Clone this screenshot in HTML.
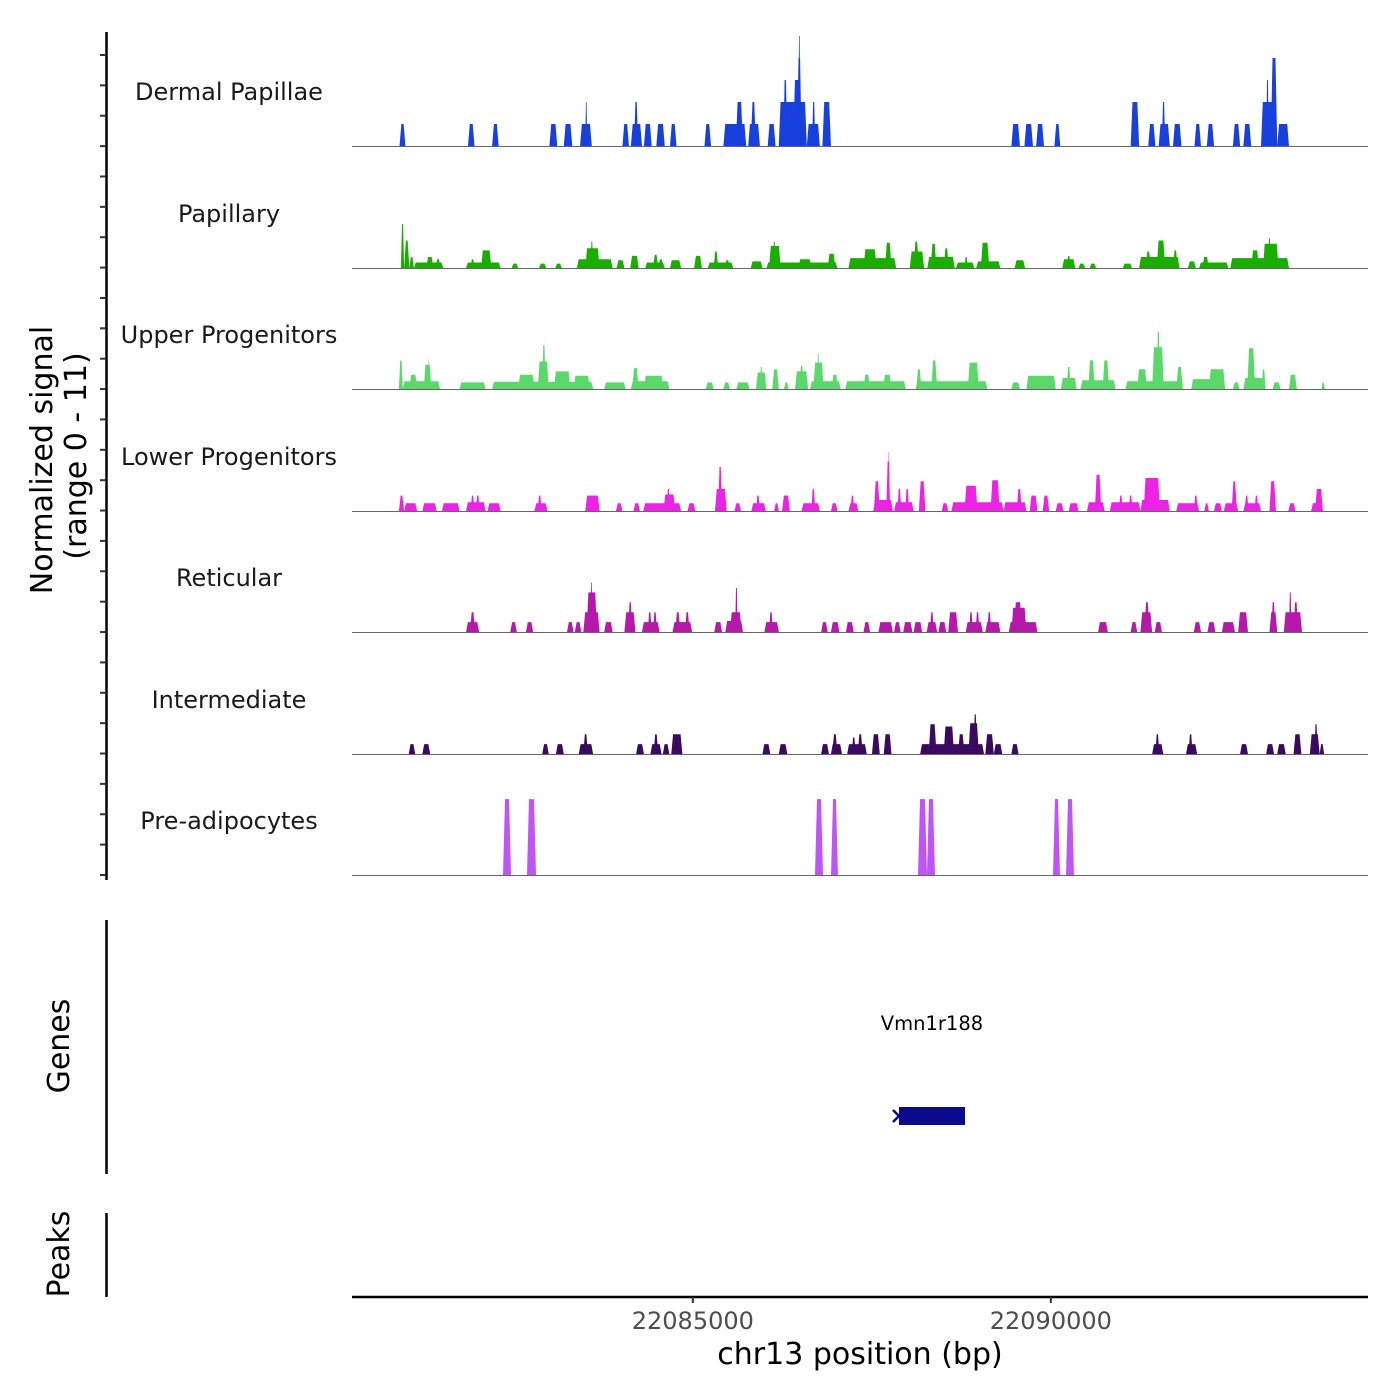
<!DOCTYPE html>
<html><head><meta charset="utf-8"><style>
html,body{margin:0;padding:0;background:#fff;}
svg{display:block;font-family:"DejaVu Sans","Liberation Sans",sans-serif;}
</style></head><body>
<svg id="chart" width="1400" height="1400" viewBox="0 0 1400 1400" xmlns="http://www.w3.org/2000/svg">
<g id="tracks"></g>
<g id="axes"></g>
</svg>
<script>
const REGION_START = 22080240;
const REGION_END = 22094430;
const trackNames = ["Dermal Papillae","Papillary","Upper Progenitors","Lower Progenitors","Reticular","Intermediate","Pre-adipocytes"];
const trackColors = ["#1740dc","#1aae00","#5ad96a","#ec22e4","#b619a9","#3b0a5e","#bf55f5"];
const xTicks = [22085000, 22090000];
const geneName = "Vmn1r188";
const geneRange = [7639, 8561];
// peaks: [startOffsetBp, endOffsetBp, normalizedSignal]
const dermalPapillae = [[664,746,2],[1620,1711,2],[1957,2048,2],[2757,2867,2],[2958,3076,2],[3185,3349,2],[3258,3285,4],[3777,3868,2],[3895,4050,2],[3940,3995,4],[4077,4186,2],[4250,4368,2],[4441,4532,2],[4923,5014,2],[5187,5506,2],[5360,5460,4],[5533,5697,2],[5569,5642,4],[5806,5915,2],[5960,6352,4],[6024,6079,6],[6161,6279,6],[6215,6279,8],[6234,6261,10],[6352,6534,2],[6425,6470,4],[6570,6689,4],[9209,9328,2],[9391,9510,2],[9555,9664,2],[9810,9892,2],[10875,10993,4],[11120,11220,2],[11266,11421,2],[11311,11357,4],[11466,11584,2],[11766,11857,2],[11939,12039,2],[12303,12403,2],[12449,12558,2],[12695,12922,4],[12767,12804,6],[12831,12922,8],[12922,13086,2]];
const papillary = [[683,728,4],[728,801,2.5],[801,865,1],[865,1274,0.5],[1037,1138,1],[1165,1238,0.8],[1593,2075,0.5],[1802,1947,1.6],[1656,1711,0.8],[2230,2321,0.4],[2612,2712,0.4],[2839,2930,0.4],[3140,3640,0.8],[3258,3458,1.8],[3331,3367,2.4],[3695,3804,0.7],[3886,4004,1.1],[4095,4368,0.5],[4204,4277,1.2],[4277,4350,0.8],[4441,4596,0.7],[4778,4887,1.1],[4969,5324,0.5],[5051,5114,1.5],[5205,5278,0.7],[5569,5733,0.6],[5788,6780,0.5],[5824,5988,2],[5879,5915,2.4],[6234,6416,0.8],[6643,6752,1.3],[6934,7599,0.9],[7144,7326,1.7],[7444,7535,2.3],[7790,7990,1.5],[7844,7917,2.4],[8035,8418,1],[8081,8163,2.2],[8263,8336,1.8],[8436,8691,0.5],[8554,8600,1],[8718,9055,0.6],[8782,8900,2.3],[9255,9400,0.7],[9919,10101,0.8],[9983,10037,1.1],[10147,10238,0.4],[10301,10392,0.4],[10765,10893,0.4],[10993,11557,1],[11239,11357,2.5],[11466,11530,1.6],[11084,11157,1.5],[11675,11785,0.6],[11830,12240,0.5],[11876,11967,1],[12267,13086,0.9],[12558,12667,1.6],[12722,12940,2.2],[12795,12831,2.7]];
const upperProgenitors = [[655,710,2.6],[710,1229,0.7],[801,910,1.3],[1001,1110,2.2],[1056,1074,2.7],[1502,1866,0.6],[1957,3367,0.65],[2321,2548,1.3],[2594,2748,2.5],[2657,2703,4],[2821,3049,1.6],[3094,3322,1.2],[3522,3822,0.6],[3895,4432,0.7],[3913,4004,1.9],[4077,4350,1.2],[4941,5051,0.6],[5187,5278,0.6],[5369,5551,0.6],[5642,5788,1.5],[5697,5733,2],[5870,5961,1.8],[6033,6097,0.6],[6188,6370,1.6],[6252,6306,2.1],[6397,6825,0.7],[6443,6588,2.4],[6497,6525,3.2],[6698,6789,1.3],[6889,7735,0.7],[7144,7235,1.3],[7417,7535,1.3],[7872,8873,0.7],[7881,7953,1.8],[8090,8172,2.6],[8600,8754,2.4],[9209,9328,0.6],[9419,9828,1.2],[9901,10119,1],[9983,10037,2],[10174,10665,0.8],[10283,10374,2.6],[10483,10574,2.6],[10802,11603,0.7],[10966,11102,1.8],[11175,11339,3.8],[11239,11284,5.2],[11512,11603,2],[11721,12194,0.9],[11967,12194,1.8],[12303,12394,0.6],[12449,12740,1],[12503,12613,3.7],[12704,12758,1.8],[12858,12968,0.6],[13086,13195,1.3],[13541,13586,0.6]];
const lowerProgenitors = [[655,728,1.4],[728,910,0.7],[983,1183,0.7],[1256,1502,0.7],[1593,1866,0.8],[1656,1711,1.4],[1729,1784,1.4],[1893,2075,0.7],[2548,2730,0.7],[2594,2648,1.4],[3258,3458,1.4],[3686,3777,0.7],[3931,4022,0.7],[4068,4596,0.7],[4350,4514,1.5],[4395,4441,2],[4687,4796,0.7],[5069,5233,2],[5114,5169,4],[5342,5433,0.7],[5578,5779,0.7],[5642,5697,1.4],[5897,5961,0.7],[6006,6115,1.4],[6279,6534,0.7],[6416,6470,2],[6689,6780,0.7],[6934,7071,0.7],[6962,7016,1.4],[7280,7553,1],[7289,7371,2.7],[7462,7517,4.5],[7489,7508,5.4],[7571,7844,0.8],[7617,7671,2],[7726,7781,2],[7917,8008,2.7],[8236,8327,0.7],[8372,9100,0.8],[8554,8736,2.3],[8918,9045,2.8],[9100,9419,0.8],[9282,9355,2],[9464,9573,1.4],[9646,9737,1.4],[9828,9937,0.7],[10010,10147,0.7],[10265,10511,0.8],[10374,10465,3.3],[10583,11011,0.8],[10711,10765,1.4],[10847,10902,1.4],[11011,11421,1],[11057,11284,3],[11512,11830,0.7],[11757,11812,1.4],[11903,11967,0.7],[12039,12149,0.7],[12176,12376,0.7],[12285,12358,2.7],[12449,12695,0.7],[12467,12522,1.4],[12604,12658,1.4],[12813,12904,2.7],[13077,13177,0.7],[13395,13559,0.7],[13450,13559,2]];
const reticular = [[1593,1775,0.9],[1647,1720,1.8],[2211,2302,0.9],[2430,2530,0.9],[3003,3094,0.9],[3112,3203,0.9],[3231,3458,1.8],[3276,3422,3.6],[3331,3358,4.5],[3522,3640,0.9],[3804,3959,1.8],[3858,3913,2.7],[4050,4295,0.9],[4131,4186,1.8],[4204,4259,1.8],[4477,4750,0.9],[4514,4586,1.8],[4650,4714,1.8],[5060,5169,0.9],[5214,5460,1],[5278,5442,1.8],[5351,5387,4],[5760,5961,0.9],[5824,5879,1.8],[6552,6643,0.9],[6689,6807,0.9],[6898,7007,0.9],[7144,7235,0.9],[7353,7553,0.9],[7571,7662,0.9],[7699,7826,0.9],[7844,7963,0.9],[8026,8172,0.9],[8072,8126,1.8],[8190,8299,0.9],[8327,8463,1.8],[8572,8809,0.9],[8618,8672,1.8],[8709,8763,1.8],[8845,9055,0.9],[8873,8927,1.8],[9173,9573,0.9],[9209,9419,2.2],[9246,9355,2.7],[10420,10556,0.9],[10875,10966,0.9],[11011,11175,1.8],[11066,11138,2.7],[11211,11311,0.9],[11757,11857,0.9],[11948,12058,0.9],[12149,12331,0.9],[12376,12513,1.8],[12813,12922,1.8],[12840,12895,2.7],[13013,13268,1.8],[13086,13122,3.6],[13150,13213,2.7]];
const intermediate = [[792,883,0.9],[983,1092,0.9],[2657,2748,0.9],[2848,2958,0.9],[3167,3367,0.9],[3231,3294,1.8],[3968,4077,0.9],[4168,4323,0.9],[4213,4277,1.8],[4341,4432,0.9],[4459,4614,1.8],[5733,5842,0.9],[5961,6079,0.9],[6552,6661,0.9],[6689,6843,0.9],[6707,6780,1.8],[6916,7189,0.9],[6980,7034,1.5],[7062,7134,1.8],[7262,7371,1.8],[7426,7535,1.8],[7935,8827,0.9],[8054,8163,2.7],[8263,8408,2.5],[8463,8554,1.8],[8609,8754,2.8],[8681,8727,3.6],[8845,8964,1.8],[8964,9082,0.9],[9209,9309,0.9],[11175,11330,0.9],[11220,11275,1.8],[11648,11803,0.9],[11684,11739,1.8],[12403,12513,0.9],[12767,12877,0.9],[12922,13040,0.9],[13150,13259,1.8],[13377,13514,1.8],[13441,13486,2.7],[13514,13577,0.9]];
const preAdipocytes = [[2109,2221,6.9],[2444,2570,6.9],[6466,6578,6.9],[6690,6787,6.9],[7905,8030,6.9],[8030,8142,6.9],[9790,9888,6.9],[9972,10083,6.9]];
const trackData = [dermalPapillae,papillary,upperProgenitors,lowerProgenitors,reticular,intermediate,preAdipocytes];

const NS="http://www.w3.org/2000/svg";
const X0=352, X1=1368, BPPX=13.966;
function xOff(o){return X0 + o/BPPX;}
function xAbs(bp){return xOff(bp-REGION_START);}
const baselines=[146,268,389,511,632,754,875];
const UNIT=11;
function yVal(i,v){return baselines[i]-v*UNIT;}
function mk(tag,attrs,parent){const e=document.createElementNS(NS,tag);for(const k in attrs)e.setAttribute(k,attrs[k]);parent.appendChild(e);return e;}
const tracks=document.getElementById('tracks');
const axes=document.getElementById('axes');
trackData.forEach((peaks,i)=>{
  const g=mk('g',{},tracks);
  
  
  peaks.forEach(p=>{
    const a=xOff(p[0]), b=xOff(p[1]), t=yVal(i,p[2]), base=baselines[i];
    const s=Math.min(i===6?2:1.8,(b-a)/3);
    const path=mk('path',{d:`M${a},${base}L${a+s},${t}L${b-s},${t}L${b},${base}Z`,fill:trackColors[i]},g);
    
    
  });
  const bl=mk('line',{x1:X0,x2:X1,y1:baselines[i]+0.5,y2:baselines[i]+0.5,stroke:'#666','stroke-width':1},g);
  
  
  const lb=mk('text',{x:229,y:baselines[i]-46,'text-anchor':'middle','font-size':24,fill:'#1a1a1a'},g);
  lb.textContent=trackNames[i];
  
  
});
// left axis
const la=mk('line',{x1:106.5,x2:106.5,y1:32,y2:880,stroke:'#000','stroke-width':2.5},axes);


for(let k=0;k<28;k++){const y=55+k*30.37;
  const t=mk('line',{x1:100,x2:106,y1:y,y2:y,stroke:'#333','stroke-width':2},axes);
  
  }
const yt=mk('text',{transform:'translate(52,460) rotate(-90)','text-anchor':'middle','font-size':30,fill:'#000'},axes);
yt.textContent='Normalized signal';


const yt2=mk('text',{transform:'translate(86,456) rotate(-90)','text-anchor':'middle','font-size':30,fill:'#000'},axes);
yt2.textContent='(range 0 - 11)';


// genes
const gl=mk('line',{x1:106.5,x2:106.5,y1:920,y2:1174,stroke:'#000','stroke-width':2.5},axes);


const gt=mk('text',{transform:'translate(69,1046) rotate(-90)','text-anchor':'middle','font-size':30,fill:'#000'},axes);
gt.textContent='Genes';


const gx0=xOff(geneRange[0]), gx1=xOff(geneRange[1]);
const gb=mk('rect',{x:gx0,y:1107,width:gx1-gx0,height:18,fill:'#0a0a8c'},axes);


const ga=mk('path',{d:`M${gx0-6},1110L${gx0},1116L${gx0-6},1122`,fill:'none',stroke:'#0a0a8c','stroke-width':2.5},axes);


const gn=mk('text',{x:(gx0+gx1)/2,y:1030,'text-anchor':'middle','font-size':19.5,fill:'#000'},axes);
gn.textContent=geneName;


// peaks
const pl=mk('line',{x1:106.5,x2:106.5,y1:1213,y2:1297,stroke:'#000','stroke-width':2.5},axes);


const pt=mk('text',{transform:'translate(69,1254) rotate(-90)','text-anchor':'middle','font-size':30,fill:'#000'},axes);
pt.textContent='Peaks';


// x axis
const xa=mk('line',{x1:X0,x2:X1,y1:1297,y2:1297,stroke:'#000','stroke-width':2.5},axes);


xTicks.forEach(v=>{const x=xAbs(v);
  const t=mk('line',{x1:x,x2:x,y1:1297,y2:1303,stroke:'#333','stroke-width':2},axes);
  
  
  const l=mk('text',{x:x,y:1329,'text-anchor':'middle','font-size':24,fill:'#4d4d4d'},axes);
  l.textContent=String(v);
  
  });
const xt=mk('text',{x:860,y:1364,'text-anchor':'middle','font-size':30,fill:'#000'},axes);
xt.textContent='chr13 position (bp)';


</script>
</body></html>
